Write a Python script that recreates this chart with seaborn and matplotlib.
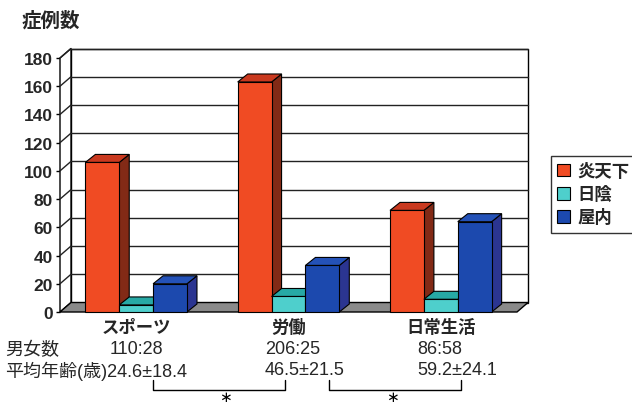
import numpy as np
import pandas as pd
import matplotlib
matplotlib.use("Agg")
import matplotlib.pyplot as plt
import seaborn as sns
from matplotlib.patches import Polygon, Patch

# data
categories = ["スポーツ", "労働", "日常生活"]
series = ["炎天下", "日陰", "屋内"]
sun_vals = [106, 163, 72]
shade_vals = [5, 11, 9]
indoor_vals = [20, 33, 64]
sex_ratio = ["110:28", "206:25", "86:58"]
age_mean_sd = ["24.6±18.4", "46.5±21.5", "59.2±24.1"]
yticks = list(range(0, 181, 20))

# colours: front, side, top
front_col = {"炎天下": "#F04B23", "日陰": "#4ECFCC", "屋内": "#1C49AE"}
side_col = {"炎天下": "#822A16", "日陰": "#1E8E8B", "屋内": "#2B3591"}
top_col = {"炎天下": "#C9391F", "日陰": "#27A9A5", "屋内": "#2452B8"}

CJK = ["Noto Sans CJK JP", "DejaVu Sans"]
LAT = ["Liberation Sans", "Noto Sans CJK JP", "DejaVu Sans"]

sns.set_theme(style="white")
plt.rcParams["font.family"] = CJK

df = pd.DataFrame({
    "分類": categories * 3,
    "場所": [s for s in series for _ in categories],
    "症例数": sun_vals + shade_vals + indoor_vals,
})

fig = plt.figure(figsize=(6.32, 4.06), dpi=100)
W, H = 632, 406
x_left, x_right, y_zero, y_top = 60, 517, 313, 59
ax = fig.add_axes([x_left / W, (H - y_zero) / H, (x_right - x_left) / W, (y_zero - y_top) / H])
ax.set_facecolor("none")

sns.barplot(data=df, x="分類", y="症例数", hue="場所", order=categories, hue_order=series,
            palette=front_col, saturation=1, width=0.667, legend=False,
            edgecolor="black", linewidth=0.8, ax=ax)

ax.set_xlim(-0.5, 2.5)
ax.set_ylim(0, 180)
for s in ax.spines.values():
    s.set_visible(False)

# depth offsets (walls and bars) in data units
px_x = (x_right - x_left) / 3.0
px_y = (y_zero - y_top) / 180.0
DX, DY = 11 / px_x, 9.5 / px_y
BDX, BDY = 10 / px_x, 8 / px_y

x0, x1 = -0.5, 2.5
# back wall and left wall
ax.add_patch(Polygon([(x0 + DX, DY), (x1 + DX, DY), (x1 + DX, 180 + DY), (x0 + DX, 180 + DY)],
                     closed=True, facecolor="white", edgecolor="black", lw=1, zorder=0.5, clip_on=False))
ax.add_patch(Polygon([(x0, 0), (x0 + DX, DY), (x0 + DX, 180 + DY), (x0, 180)],
                     closed=True, facecolor="white", edgecolor="black", lw=1, zorder=0.6, clip_on=False))
for v in yticks[1:]:
    ax.plot([x0 + DX, x1 + DX], [v + DY, v + DY], color="#222222", lw=1, zorder=0.7, clip_on=False)
    ax.plot([x0, x0 + DX], [v, v + DY], color="#222222", lw=1, zorder=0.7, clip_on=False)
# floor
ax.add_patch(Polygon([(x0, 0), (x1, 0), (x1 + DX, DY), (x0 + DX, DY)],
                     closed=True, facecolor="#8A8A8A", edgecolor="black", lw=1, zorder=1, clip_on=False))

# 3D faces for each bar
bars = []
for name, cont in zip(series, ax.containers):
    for b in cont:
        bars.append((b.get_x(), b, name))
bars.sort(key=lambda t: t[0])
for k, (bx, b, name) in enumerate(bars):
    w, h = b.get_width(), b.get_height()
    z = 3 + k * 0.1
    side = [(bx + w, 0), (bx + w + BDX, BDY), (bx + w + BDX, h + BDY), (bx + w, h)]
    top = [(bx, h), (bx + BDX, h + BDY), (bx + w + BDX, h + BDY), (bx + w, h)]
    ax.add_patch(Polygon(side, closed=True, facecolor=side_col[name], edgecolor="black", lw=0.8,
                         zorder=z, clip_on=False))
    ax.add_patch(Polygon(top, closed=True, facecolor=top_col[name], edgecolor="black", lw=0.8,
                         zorder=z + 0.03, clip_on=False))
    b.set_zorder(z + 0.06)
    b.set_clip_on(False)

# axes ticks
ax.set_yticks(yticks)
ax.set_yticklabels([str(v) for v in yticks], family=LAT, fontsize=12.5, fontweight="bold")
ax.tick_params(axis="y", direction="out", length=3, width=1, pad=2, color="black", left=True)
ax.set_xticks([])
ax.set_xlabel("")
ax.set_ylabel("")

def ay(ypx):
    return (y_zero - ypx) / (y_zero - y_top)

tr = ax.get_xaxis_transform()
for i, c in enumerate(categories):
    ax.text(i, ay(328), c, transform=tr, ha="center", va="center", fontsize=12.5,
            fontweight="bold", family=CJK)

# rows under the chart
fig.text(5 / W, 1 - 350 / H, "男女数", ha="left", va="center", fontsize=13, family=CJK)
fig.text(5 / W, 1 - 371 / H, "平均年齢(歳)" + age_mean_sd[0], ha="left", va="center",
         fontsize=13, family=LAT)
for i in range(3):
    off = -0.172 if i == 0 else -0.154
    ax.text(i + off, ay(350), sex_ratio[i], transform=tr, ha="left", va="center",
            fontsize=13, family=LAT)
    if i > 0:
        ax.text(i + off, ay(371), age_mean_sd[i], transform=tr, ha="left", va="center",
                fontsize=13, family=LAT)

# significance brackets
for a, b, star in [(0.111, 0.977, 0.583), (1.266, 2.132, 1.68)]:
    ax.plot([a, a, b, b], [ay(381), ay(391), ay(391), ay(381)], color="black", lw=1,
            transform=tr, clip_on=False)
    ax.text(star, ay(405.8), r"$\ast$", transform=tr, ha="center", va="bottom", fontsize=11,
            color="black")

# title
fig.text(22 / W, 1 - 21 / H, "症例数", ha="left", va="center", fontsize=14,
         fontweight="bold", family=CJK)

# legend
handles = [Patch(facecolor=front_col[s], edgecolor="black", lw=0.8) for s in series]
leg = fig.legend(handles, series, loc="upper left", bbox_to_anchor=(551 / W, 1 - 157 / H),
                 frameon=True, fancybox=False, edgecolor="black",
                 prop={"family": CJK, "size": 12.5, "weight": "bold"},
                 handlelength=0.75, handleheight=0.75, handletextpad=0.4,
                 labelspacing=0.3, borderpad=0.35, borderaxespad=0)
leg.get_frame().set_linewidth(1)

fig.savefig("out.png", dpi=100)
